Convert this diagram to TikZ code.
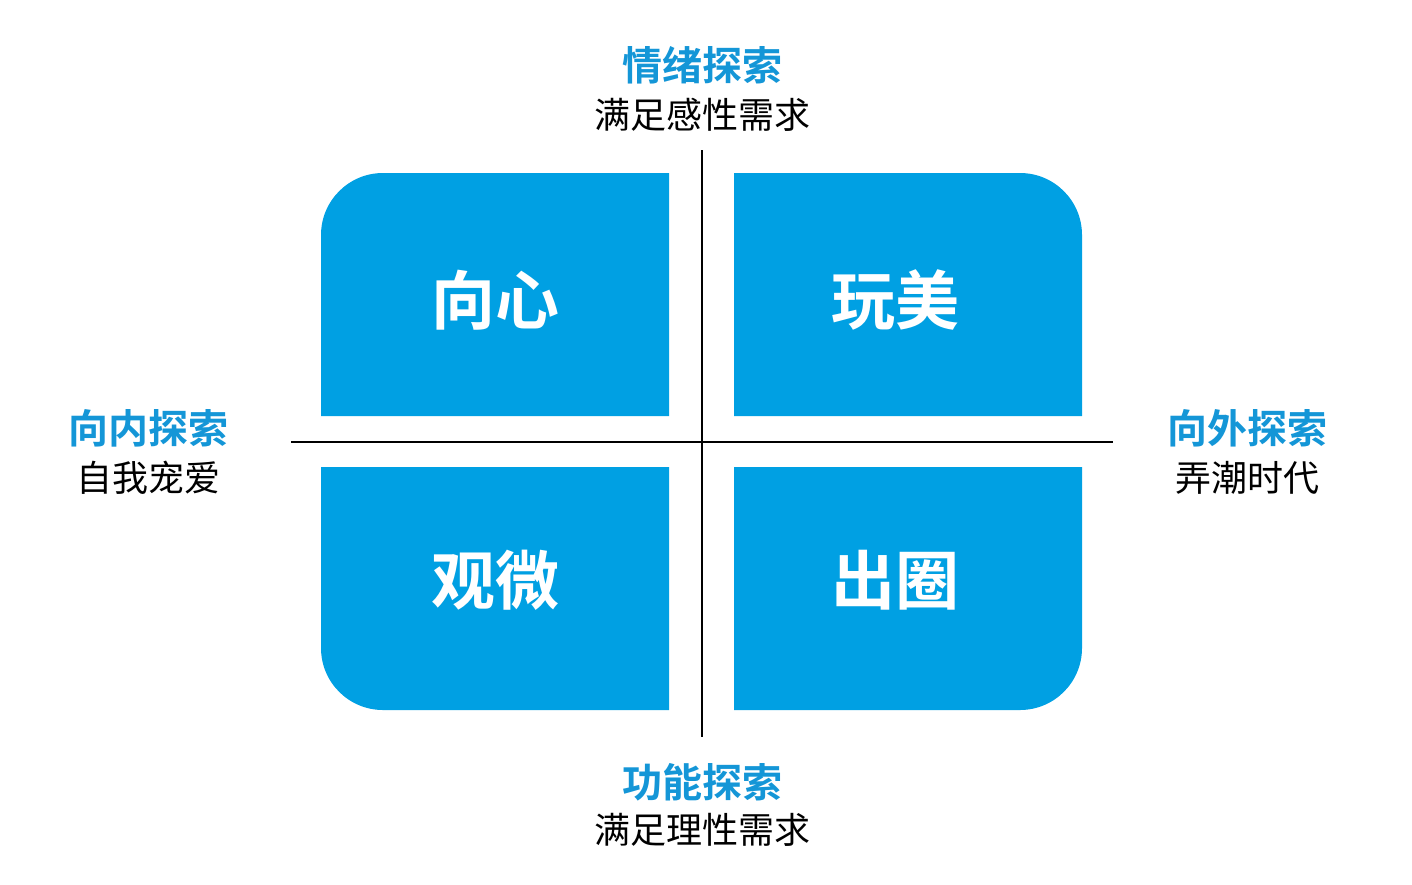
\documentclass[tikz,border=0pt]{standalone}
\usepackage{fontspec}
\newfontfamily\cjk{Noto Sans CJK SC}
\newfontfamily\cjkb{Noto Sans CJK SC Bold}
\definecolor{qblue}{RGB}{0,160,227}
\definecolor{tblue}{RGB}{20,150,215}
\begin{document}
\begin{tikzpicture}[x=1pt,y=-1pt,
  quad/.style={fill=qblue},
  big/.style={text=white,font=\cjkb\fontsize{64}{64}\selectfont},
  head/.style={text=tblue,font=\cjkb\fontsize{40}{40}\selectfont},
  sub/.style={text=black,font=\cjk\fontsize{36}{36}\selectfont},
  axis/.style={line width=2pt,black}]
\useasboundingbox (0,0) rectangle (1412,884);
\fill[quad] (321,416) [rounded corners=62] -- (321,173) [sharp corners] -- (669,173) -- (669,416) -- cycle;
\fill[quad] (734,416) -- (734,173) [rounded corners=62] -- (1082,173) [sharp corners] -- (1082,416) -- cycle;
\fill[quad] (669,467) -- (321,467) [rounded corners=62] -- (321,710) [sharp corners] -- (669,710) -- cycle;
\fill[quad] (734,467) -- (1082,467) [rounded corners=62] -- (1082,710) [sharp corners] -- (734,710) -- cycle;
\coordinate (vt) at (702,150); \coordinate (vb) at (702,737);
\coordinate (hl) at (291,442); \coordinate (hr) at (1113,442);
\draw[axis] (vt) -- (vb);
\draw[axis] (hl) -- (hr);
\node[big] (q1) at (495,300) {向心};
\node[big] (q2) at (895,300) {玩美};
\node[big] (q3) at (495,580) {观微};
\node[big] (q4) at (895,580) {出圈};
\node[head] (th) at (702,65) {情绪探索};
\node[sub] (ts) at (702,115) {满足感性需求};
\node[head] (lh) at (148,428) {向内探索};
\node[sub] (ls) at (148,478) {自我宠爱};
\node[head] (rh) at (1247,428) {向外探索};
\node[sub] (rs) at (1247,478) {弄潮时代};
\node[head] (bh) at (702,782) {功能探索};
\node[sub] (bs) at (702,830) {满足理性需求};
\end{tikzpicture}
\end{document}
